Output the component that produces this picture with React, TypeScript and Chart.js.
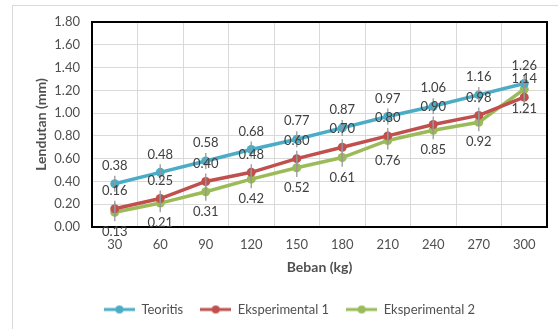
import React, { useEffect, useRef } from "react";
import { Chart, registerables } from "chart.js";

Chart.register(...registerables);

const categories = ["30", "60", "90", "120", "150", "180", "210", "240", "270", "300"];
const teoritis = [0.38, 0.48, 0.58, 0.68, 0.77, 0.87, 0.97, 1.06, 1.16, 1.26];
const eksperimental1 = [0.16, 0.25, 0.40, 0.48, 0.60, 0.70, 0.80, 0.90, 0.98, 1.14];
const eksperimental2 = [0.13, 0.21, 0.31, 0.42, 0.52, 0.61, 0.76, 0.85, 0.92, 1.21];
const errTeoritis = [0.07, 0.07, 0.07, 0.07, 0.07, 0.07, 0.07, 0.07, 0.07, 0.07];
const errEks1 = [0.07, 0.07, 0.07, 0.07, 0.07, 0.07, 0.07, 0.07, 0.07, 0.07];
const errEks2 = [0.08, 0.08, 0.08, 0.08, 0.08, 0.08, 0.08, 0.08, 0.08, 0.08];
const yTicks = [0, 0.2, 0.4, 0.6, 0.8, 1.0, 1.2, 1.4, 1.6, 1.8];

const FONT = "Lato, 'Open Sans', sans-serif";
const TEXT = "#505050";

function legendIcon(color: string) {
  const c = document.createElement("canvas");
  c.width = 31;
  c.height = 10;
  const ctx = c.getContext("2d")!;
  ctx.strokeStyle = color;
  ctx.lineWidth = 3;
  ctx.beginPath();
  ctx.moveTo(0, 5);
  ctx.lineTo(31, 5);
  ctx.stroke();
  ctx.fillStyle = color;
  ctx.beginPath();
  ctx.arc(15.5, 5, 4, 0, Math.PI * 2);
  ctx.fill();
  return c;
}

const extrasPlugin = {
  id: "extras",
  beforeDraw(chart: any) {
    const ctx = chart.ctx;
    ctx.save();
    ctx.fillStyle = "#ffffff";
    ctx.fillRect(0, 0, chart.width, chart.height);
    ctx.strokeStyle = "#D9D9D9";
    ctx.lineWidth = 1;
    ctx.strokeRect(12.5, 5.5, chart.width + 20, chart.height + 20);
    ctx.restore();
  },
  beforeDatasetsDraw(chart: any) {
    const { ctx, chartArea } = chart;
    ctx.save();
    ctx.strokeStyle = "#000000";
    ctx.lineWidth = 2;
    ctx.strokeRect(chartArea.left, chartArea.top, chartArea.right - chartArea.left, chartArea.bottom - chartArea.top);
    ctx.restore();
  },
  afterDatasetsDraw(chart: any) {
    const ctx = chart.ctx;
    const yScale = chart.scales.y;
    ctx.save();
    chart.data.datasets.forEach((ds: any, i: number) => {
      const meta = chart.getDatasetMeta(i);
      meta.data.forEach((pt: any, j: number) => {
        const v = ds.data[j];
        const e = ds.errors[j];
        ctx.strokeStyle = "rgba(150,150,150,0.85)";
        ctx.lineWidth = 1.5;
        ctx.beginPath();
        ctx.moveTo(pt.x, yScale.getPixelForValue(v + e));
        ctx.lineTo(pt.x, yScale.getPixelForValue(v - e));
        ctx.stroke();
      });
    });
    chart.data.datasets.forEach((ds: any, i: number) => {
      const meta = chart.getDatasetMeta(i);
      ctx.font = `13px ${FONT}`;
      ctx.fillStyle = "#404040";
      ctx.textAlign = "center";
      ctx.textBaseline = "middle";
      meta.data.forEach((pt: any, j: number) => {
        ctx.fillText(ds.data[j].toFixed(2), pt.x, pt.y + ds.labelOffset);
      });
    });
    ctx.restore();
  },
};

export default function App() {
  const ref = useRef<HTMLCanvasElement | null>(null);
  useEffect(() => {
    document.body.style.margin = "0";
    const colors = ["#4BACC6", "#C0504D", "#9BBB59"];
    const chart = new Chart(ref.current!, {
      type: "line",
      data: {
        labels: categories,
        datasets: [
          { label: "Teoritis", data: teoritis, errors: errTeoritis, labelOffset: -18 },
          { label: "Eksperimental 1", data: eksperimental1, errors: errEks1, labelOffset: -18 },
          { label: "Eksperimental 2", data: eksperimental2, errors: errEks2, labelOffset: 20 },
        ].map((d, i) => ({
          ...d,
          borderColor: colors[i],
          backgroundColor: colors[i],
          borderWidth: 3.5,
          pointRadius: 4.5,
          pointBorderWidth: 0,
          pointHoverRadius: 4.5,
          tension: 0,
        })) as any,
      },
      options: {
        responsive: false,
        animation: false,
        layout: { padding: { left: 32, right: 11, top: 22, bottom: 3 } },
        plugins: {
          tooltip: { enabled: false },
          legend: {
            position: "bottom",
            labels: {
              usePointStyle: true,
              pointStyleWidth: 31,
              padding: 17,
              color: TEXT,
              font: { family: FONT, size: 13 },
              generateLabels: (c: any) =>
                c.data.datasets.map((ds: any, i: number) => ({
                  text: ds.label,
                  pointStyle: legendIcon(colors[i]),
                  fillStyle: colors[i],
                  strokeStyle: colors[i],
                  lineWidth: 0,
                  fontColor: TEXT,
                  datasetIndex: i,
                  hidden: false,
                })),
            },
          },
        },
        scales: {
          x: {
            type: "category",
            offset: true,
            grid: { offset: true, color: "#D9D9D9", drawTicks: false },
            border: { display: false },
            ticks: { color: TEXT, font: { family: FONT, size: 13 }, padding: 10, maxRotation: 0 },
            title: {
              display: true,
              text: "Beban (kg)",
              color: TEXT,
              font: { family: FONT, size: 14, weight: "bold" },
              padding: { top: 0, bottom: 10 },
            },
            afterFit: (s: any) => {
              s.height = 59;
            },
          },
          y: {
            min: 0,
            max: 1.8,
            afterBuildTicks: (s: any) => {
              s.ticks = yTicks.map((v) => ({ value: v }));
            },
            grid: { color: "#D9D9D9", drawTicks: false },
            border: { display: false },
            ticks: {
              color: TEXT,
              font: { family: FONT, size: 13 },
              padding: 12,
              callback: (v: any) => Number(v).toFixed(2),
            },
            title: {
              display: true,
              text: "Lendutan (mm)",
              color: TEXT,
              font: { family: FONT, size: 14, weight: "bold" },
              padding: { top: 1, bottom: 0 },
            },
            afterFit: (s: any) => {
              s.width = 60;
            },
          },
        },
      } as any,
      plugins: [extrasPlugin],
    });
    return () => chart.destroy();
  }, []);
  return <canvas ref={ref} width={558} height={329} style={{ display: "block" }} />;
}
